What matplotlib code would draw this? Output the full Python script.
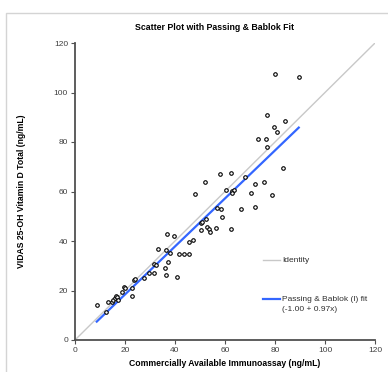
import matplotlib
matplotlib.use("Agg")
import matplotlib.pyplot as plt
from matplotlib.patches import Rectangle
import numpy as np

plt.rcParams['font.family'] = ['Liberation Sans', 'DejaVu Sans']

# values
immunoassay = [8.7, 12.4, 13.3, 14.9, 15.3, 15.9, 16.3, 16.9, 17.3, 18.8,
               19.6, 20.0, 22.8, 22.9, 23.5, 23.9, 27.7, 29.5, 31.6, 31.6,
               32.5, 36.0, 36.5, 37.1, 38.1, 40.9, 41.6, 43.7, 45.6, 36.4,
               33.2, 36.6, 39.6, 45.5, 47.0, 47.8, 50.2, 50.3, 50.8, 52.4,
               52.7, 53.4, 54.0, 56.3, 56.9, 58.3, 58.6, 51.9, 58.1, 62.4,
               60.5, 62.8, 63.5, 62.9, 62.3, 66.4, 67.9, 70.4, 71.9, 72.0,
               75.5, 78.7, 76.8, 73.3, 76.3, 79.5, 80.9, 84.1, 76.9, 83.2,
               80.0, 89.5]
vidas = [14.2, 11.5, 15.4, 15.5, 16.2, 17.1, 17.9, 17.5, 16.0, 19.3,
         21.5, 21.2, 17.8, 20.9, 24.3, 24.8, 25.0, 27.2, 27.1, 30.6,
         30.3, 29.2, 26.3, 31.6, 35.0, 25.6, 34.9, 34.9, 34.9, 36.2,
         36.6, 43.0, 41.9, 39.6, 40.6, 59.0, 44.3, 47.3, 47.8, 49.0,
         45.8, 44.8, 43.8, 45.1, 53.2, 53.0, 49.8, 63.7, 67.2, 67.6,
         60.7, 60.3, 60.5, 59.2, 44.8, 53.1, 65.7, 59.5, 53.9, 62.9,
         63.8, 58.5, 78.0, 81.3, 81.2, 86.2, 83.9, 88.5, 90.9, 69.4,
         107.3, 106.1]
intercept = -1.00
slope = 0.97
ticks = [0, 20, 40, 60, 80, 100, 120]

fig = plt.figure(figsize=(3.88, 3.72), dpi=100)
fig.patches.append(Rectangle((6 / 388, -0.1), 1.2, 1.1 - 13 / 372,
                             transform=fig.transFigure, fill=False,
                             edgecolor='#d4d4d4', lw=1.0))
ax = fig.add_axes([75 / 388, 1 - 340 / 372, 300 / 388, 297 / 372])

ax.plot([0, 120], [0, 120], color='#c8c8c8', lw=1.0, zorder=1)
xs = np.array([min(immunoassay), max(immunoassay)])
ax.plot(xs, intercept + slope * xs, color='#3366ff', lw=1.6, zorder=2)
ax.scatter(immunoassay, vidas, s=6.5, facecolors='white', edgecolors='black',
           linewidths=0.8, zorder=3)

ax.set_xlim(0, 120)
ax.set_ylim(0, 120)
ax.set_xticks(ticks)
ax.set_yticks(ticks)
for s in ['top', 'right']:
    ax.spines[s].set_visible(False)
for s in ['left', 'bottom']:
    ax.spines[s].set_color('#505050')
    ax.spines[s].set_linewidth(1.3)
ax.tick_params(length=3, width=0.8, color='#505050', labelsize=6,
               labelcolor='#404040', pad=2)

ax.set_xlabel('Commercially Available Immunoassay (ng/mL)', fontsize=6.2,
              fontweight='bold', labelpad=4)
ax.set_ylabel('VIDAS 25-OH Vitamin D Total (ng/mL)', fontsize=6.2,
              fontweight='bold', labelpad=20)
fig.text(214 / 388, 1 - 27 / 372, 'Scatter Plot with Passing & Bablok Fit',
         ha='center', va='center', fontsize=6.3, fontweight='bold')

# legend drawn by hand to mimic the spaced layout
ax.plot([0.627, 0.683], [0.268, 0.268], transform=ax.transAxes,
        color='#c8c8c8', lw=1.0, clip_on=False)
ax.text(0.69, 0.268, 'Identity', transform=ax.transAxes, fontsize=6,
        va='center', ha='left', color='#303030')
ax.plot([0.627, 0.683], [0.138, 0.138], transform=ax.transAxes,
        color='#3366ff', lw=1.6, clip_on=False)
ax.text(0.69, 0.138, 'Passing & Bablok (I) fit', transform=ax.transAxes,
        fontsize=6, va='center', ha='left', color='#303030')
ax.text(0.69, 0.102, '(-1.00 + 0.97x)', transform=ax.transAxes,
        fontsize=6, va='center', ha='left', color='#303030')

fig.savefig('out.png', dpi=100)
